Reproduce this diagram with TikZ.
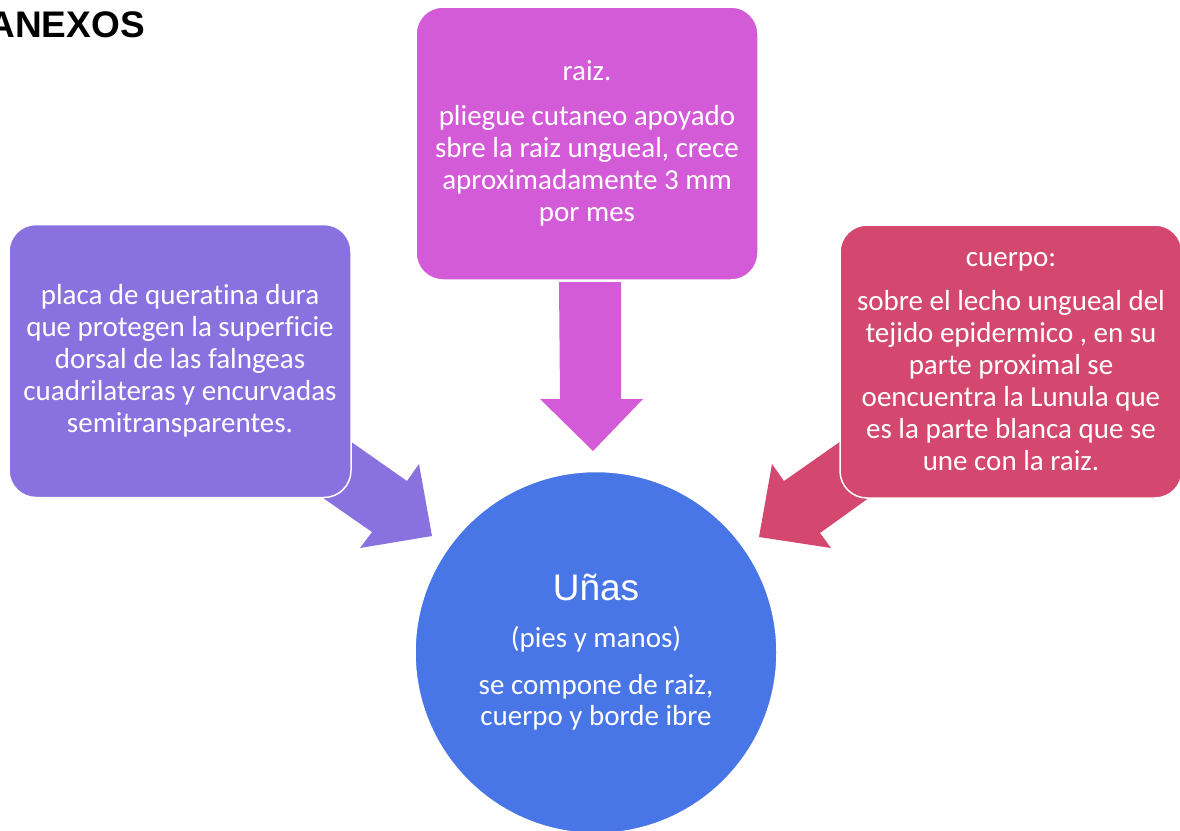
\documentclass[tikz,border=0pt]{standalone}
\usepackage{fontspec}
\setmainfont{Carlito}[Ligatures=NoCommon]
\newfontfamily\arialf{Liberation Sans}
\definecolor{cpurp}{RGB}{137,114,224}
\definecolor{cmag}{RGB}{212,91,216}
\definecolor{cpink}{RGB}{212,72,112}
\definecolor{cblue}{RGB}{73,118,230}
\begin{document}
\begin{tikzpicture}[x=1pt,y=-1pt,
  box/.style={draw=white, line width=1.5pt, rounded corners=27pt,
    minimum width=342pt, minimum height=273pt, text=white, align=center,
    inner sep=0pt, font=\fontsize{29}{32}\selectfont},
  hub/.style={circle, draw=white, line width=1.5pt, minimum size=362pt,
    text=white, align=center, inner sep=0pt, font=\fontsize{29}{31}\selectfont}]
\useasboundingbox (0,0) rectangle (1180,830);

% title
\node[anchor=base east, inner sep=0pt, font=\arialf\bfseries\fontsize{37}{40}\selectfont] (title) at (145,37) {ANEXOS};

% block arrows
\fill[cmag] (559,282) -- (621,282) -- (621,399) -- (643,399) -- (593,451) -- (540,399) -- (560,399) -- cycle;
\fill[cpurp] (300,406) -- (407,481) -- (419,464) -- (432,536) -- (360,548) -- (372,532) -- (300,482) -- cycle;
\fill[cpink] (891,406) -- (784,481) -- (772,464) -- (759,537) -- (831,548) -- (820,533) -- (891,482) -- cycle;

% boxes
\node[box, fill=cmag] (raiz) at (587,143.5)
  {raiz.\\[13pt]pliegue cutaneo apoyado\\sbre la raiz ungueal, crece\\aproximadamente 3 mm\\por mes};
\node[box, fill=cpurp] (placa) at (180,361)
  {placa de queratina dura\\que protegen la superficie\\dorsal de las falngeas\\cuadrilateras y encurvadas\\semitransparentes.};
\node[box, fill=cpink] (cuerpo) at (1011,361.5)
  {cuerpo:\\[12pt]sobre el lecho ungueal del\\tejido epidermico , en su\\parte proximal se\\oencuentra la Lunula que\\es la parte blanca que se\\une con la raiz.};

% hub
\node[hub, fill=cblue] (unas) at (596,652.5)
  {{\arialf\fontsize{37}{40}\selectfont Uñas}\\[16pt](pies y manos)\\[16pt]se compone de raiz,\\cuerpo y borde ibre};
\end{tikzpicture}
\end{document}
